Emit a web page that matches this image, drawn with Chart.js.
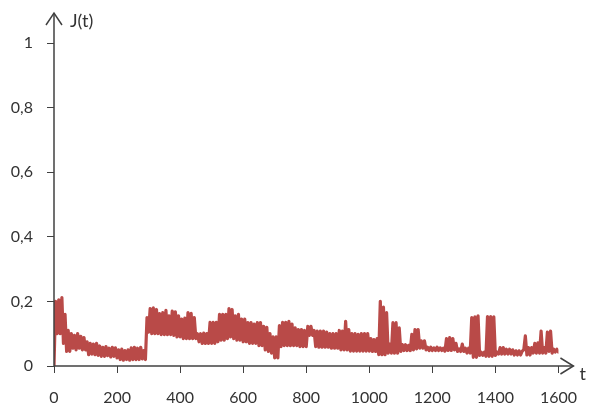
<!DOCTYPE html>
<html>
<head>
<meta charset="utf-8">
<script src="https://cdn.jsdelivr.net/npm/chart.js@4.4.0/dist/chart.umd.min.js"></script>
<style>
  html, body { margin: 0; padding: 0; background: #ffffff; }
  canvas { display: block; }
</style>
</head>
<body>
<canvas id="c" width="592" height="412"></canvas>
<script>
// ---- data ----
const T_STEP = 5;              // sampling step of t
const xTickValues = [0, 200, 400, 600, 800, 1000, 1200, 1400, 1600];
const yTickValues = [0, 0.2, 0.4, 0.6, 0.8, 1];
const yTickLabels = ['0', '0,2', '0,4', '0,6', '0,8', '1'];
const yAxisTitle = 'J(t)';
const xAxisTitle = 't';

const jValues = [
  0,
  .20,.10,.205,.10,.212,.07,.16,.045,.11,.045,
  .10,.055,.095,.05,.10,.055,.092,.05,.088,.05,
  .075,.035,.07,.037,.068,.035,.07,.033,.062,.03,
  .058,.03,.06,.032,.055,.028,.058,.03,.056,.025,
  .05,.02,.052,.018,.048,.02,.05,.018,.056,.02,
  .058,.02,.055,.02,.058,.022,.048,.02,.15,.105,
  .178,.10,.18,.10,.175,.10,.162,.097,.165,.097,
  .172,.097,.155,.097,.17,.095,.168,.09,.155,.09,
  .145,.085,.148,.085,.165,.085,.163,.085,.15,.085,
  .10,.075,.10,.07,.102,.07,.10,.07,.135,.07,
  .135,.07,.135,.075,.16,.08,.16,.08,.16,.085,
  .178,.09,.175,.085,.155,.08,.16,.08,.145,.075,
  .145,.075,.134,.07,.134,.07,.13,.07,.134,.063,
  .134,.063,.123,.05,.12,.045,.10,.04,.09,.025,
  .09,.025,.125,.06,.135,.063,.135,.063,.138,.063,
  .13,.063,.118,.063,.113,.06,.113,.06,.11,.06,
  .123,.095,.123,.095,.11,.06,.108,.058,.108,.058,
  .108,.058,.105,.058,.10,.055,.10,.055,.10,.055,
  .11,.05,.108,.05,.138,.05,.113,.046,.10,.046,
  .10,.046,.098,.046,.10,.046,.10,.046,.10,.046,
  .085,.045,.082,.045,.085,.035,.20,.035,.182,.035,
  .165,.04,.068,.04,.134,.04,.134,.04,.118,.045,
  .066,.048,.066,.048,.064,.048,.098,.05,.113,.053,
  .113,.055,.078,.055,.078,.05,.058,.048,.058,.048,
  .056,.048,.058,.048,.056,.048,.055,.046,.085,.048,
  .088,.048,.085,.05,.07,.045,.053,.045,.068,.045,
  .055,.04,.055,.04,.15,.027,.152,.027,.155,.033,
  .043,.033,.043,.03,.153,.03,.153,.03,.152,.033,
  .043,.037,.057,.037,.057,.037,.052,.037,.052,.037,
  .05,.034,.047,.034,.047,.034,.046,.05,.093,.034,
  .057,.034,.057,.04,.07,.04,.072,.04,.108,.04,
  .057,.04,.105,.045,.108,.04,.052,.043,.052,.043
];
const tValues = jValues.map((_, i) => i * T_STEP);

// ---- styles ----
const AXIS_COLOR = '#404040';
const TEXT_COLOR = '#333333';
const LINE_COLOR = '#B94A48';
const FONT = 'Lato, "Liberation Sans", sans-serif';

const axisArrows = {
  id: 'axisArrows',
  afterDraw(chart) {
    const ctx = chart.ctx;
    const a = chart.chartArea;
    const L = a.left, B = a.bottom;
    ctx.save();
    ctx.strokeStyle = AXIS_COLOR;
    ctx.lineWidth = 1.5;
    ctx.lineJoin = 'miter';
    // y axis
    const yTop = a.top - 30;
    ctx.beginPath();
    ctx.moveTo(L, B + 1);
    ctx.lineTo(L, yTop);
    ctx.stroke();
    ctx.beginPath();
    ctx.moveTo(L - 8, yTop + 12);
    ctx.lineTo(L, yTop);
    ctx.lineTo(L + 8, yTop + 12);
    ctx.stroke();
    // x axis
    const xEnd = a.right + 15;
    ctx.beginPath();
    ctx.moveTo(L, B);
    ctx.lineTo(xEnd, B);
    ctx.stroke();
    ctx.beginPath();
    ctx.moveTo(xEnd - 13, B - 8);
    ctx.lineTo(xEnd, B);
    ctx.lineTo(xEnd - 13, B + 8);
    ctx.stroke();
    // titles
    ctx.fillStyle = TEXT_COLOR;
    ctx.font = '18px ' + FONT;
    ctx.textAlign = 'left';
    ctx.textBaseline = 'alphabetic';
    ctx.fillText(yAxisTitle, L + 16, yTop + 14);
    ctx.fillText(xAxisTitle, xEnd + 6, B + 14);
    ctx.restore();
  }
};

new Chart(document.getElementById('c'), {
  type: 'line',
  data: {
    datasets: [{
      data: tValues.map((t, i) => ({ x: t, y: jValues[i] })),
      borderColor: LINE_COLOR,
      borderWidth: 3.2,
      borderJoinStyle: 'round',
      borderCapStyle: 'round',
      pointRadius: 0,
      tension: 0,
      fill: false
    }]
  },
  options: {
    responsive: false,
    animation: false,
    events: [],
    layout: { padding: { left: 0, top: 43, right: 29, bottom: 0 } },
    plugins: { legend: { display: false }, tooltip: { enabled: false } },
    scales: {
      x: {
        type: 'linear',
        min: 0, max: 1600,
        afterBuildTicks: s => { s.ticks = xTickValues.map(v => ({ value: v })); },
        afterFit: s => { s.height = 46; },
        border: { display: false },
        grid: { display: true, drawOnChartArea: false, drawTicks: true, tickLength: 7, color: AXIS_COLOR, lineWidth: 1 },
        ticks: { color: TEXT_COLOR, font: { family: FONT, size: 16 }, padding: 15, maxRotation: 0, autoSkip: false,
                 callback: v => String(v) }
      },
      y: {
        type: 'linear',
        min: 0, max: 1,
        afterBuildTicks: s => { s.ticks = yTickValues.map(v => ({ value: v })); },
        afterFit: s => { s.width = 54; },
        border: { display: false },
        grid: { display: true, drawOnChartArea: false, drawTicks: true, tickLength: 7, color: AXIS_COLOR, lineWidth: 1 },
        ticks: { color: TEXT_COLOR, font: { family: FONT, size: 16 }, padding: 14, autoSkip: false,
                 callback: v => { const k = yTickValues.findIndex(y => Math.abs(y - v) < 1e-9); return k >= 0 ? yTickLabels[k] : ''; } }
      }
    }
  },
  plugins: [axisArrows]
});
</script>
</body>
</html>
